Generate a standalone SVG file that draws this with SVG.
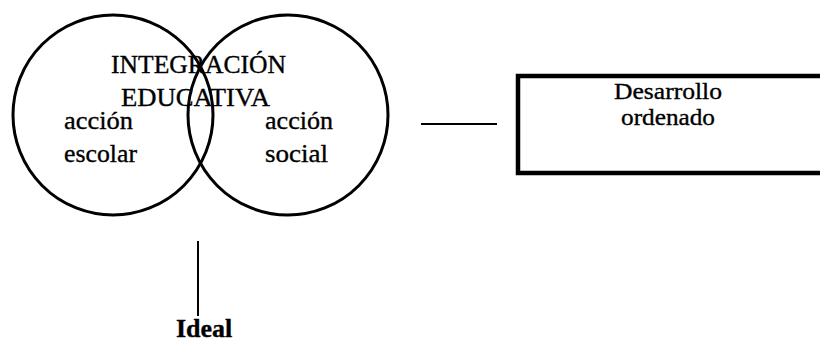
<svg xmlns="http://www.w3.org/2000/svg" width="820" height="357" viewBox="0 0 820 357">
  <style>
    .ring { fill: none; stroke: #000; stroke-width: 3; }
    .box { fill: none; stroke: #000; stroke-width: 4.5; }
    .link { stroke: #000; stroke-width: 2; fill: none; }
    .t { font-family: "Liberation Serif", "Times New Roman", serif; fill: #000; stroke: #000; stroke-width: 0.35; }
    .big { font-size: 26px; }
    .mid { font-size: 24px; }
    .bold { font-weight: bold; }
  </style>
  <rect width="820" height="357" fill="#fff"/>

  <!-- overlapping circles -->
  <g id="escolar">
    <circle class="ring" cx="113" cy="115" r="100"/>
    <text class="t big" x="64" y="129" textLength="69" lengthAdjust="spacingAndGlyphs">acción</text>
    <text class="t big" x="64" y="162" textLength="73" lengthAdjust="spacingAndGlyphs">escolar</text>
  </g>
  <g id="social">
    <circle class="ring" cx="288" cy="115" r="100"/>
    <text class="t big" x="265" y="129" textLength="68" lengthAdjust="spacingAndGlyphs">acción</text>
    <text class="t big" x="265" y="162" textLength="63" lengthAdjust="spacingAndGlyphs">social</text>
  </g>
  <g id="integracion">
    <text class="t big" x="111" y="73" textLength="175" lengthAdjust="spacingAndGlyphs">INTEGRACIÓN</text>
    <text class="t big" x="121" y="106" textLength="149" lengthAdjust="spacingAndGlyphs">EDUCATIVA</text>
  </g>

  <!-- box, open past the right edge -->
  <g id="desarrollo">
    <rect class="box" x="518" y="76" width="320" height="97"/>
    <text class="t mid" x="668" y="99" text-anchor="middle" textLength="108" lengthAdjust="spacingAndGlyphs">Desarrollo</text>
    <text class="t mid" x="668" y="125" text-anchor="middle" textLength="94" lengthAdjust="spacingAndGlyphs">ordenado</text>
  </g>

  <g id="ideal">
    <text class="t big bold" x="176" y="337">Ideal</text>
  </g>

  <g id="connectors">
    <line class="link" x1="421" y1="124" x2="497" y2="124"/>
    <line class="link" x1="198" y1="241" x2="198" y2="316"/>
  </g>
</svg>
